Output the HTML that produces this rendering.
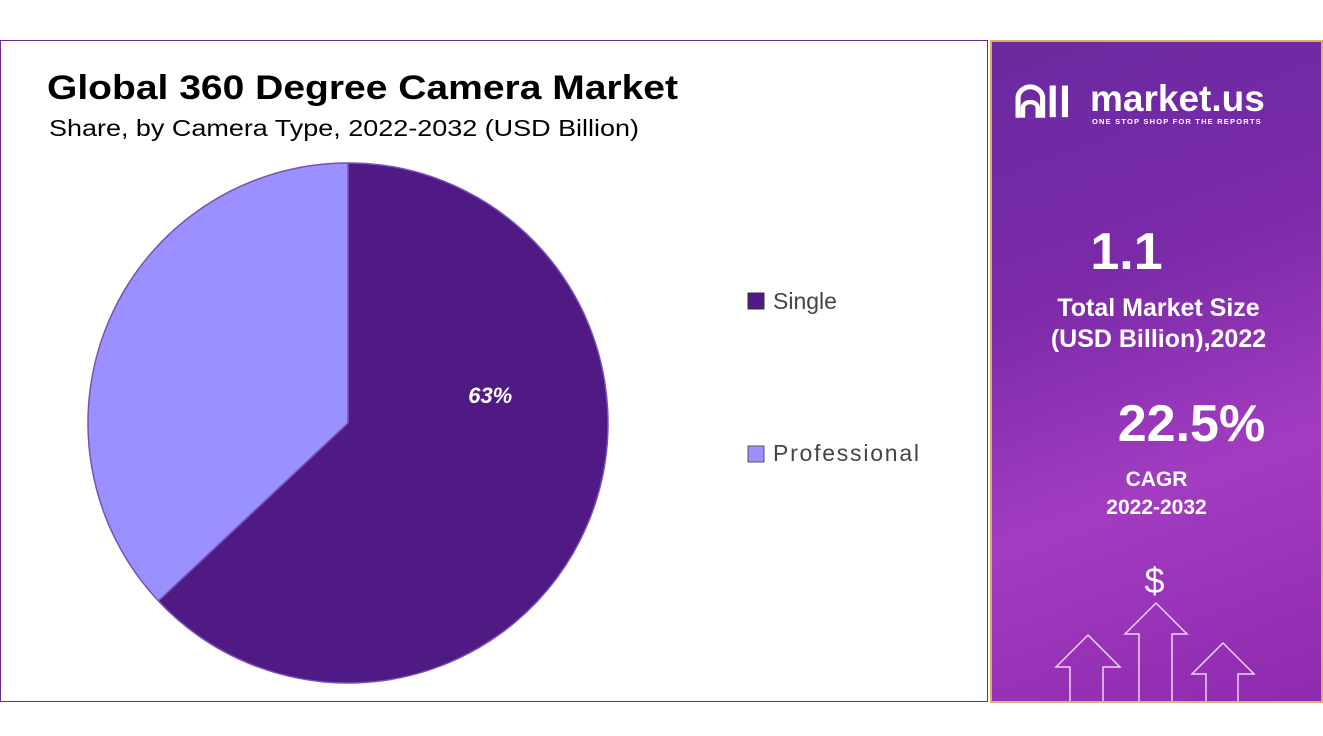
<!DOCTYPE html>
<html><head><meta charset="utf-8"><style>
body{margin:0;width:1323px;height:736px;background:#fff;position:relative;overflow:hidden;font-family:"Liberation Sans",sans-serif}
#left{position:absolute;left:0;top:40px;width:986px;height:660px;border:1px solid #6a2c8e}
#right{position:absolute;left:990px;top:40px;width:329px;height:659px;border:2px solid #d9b26a;background:linear-gradient(160deg,#6a2aa0 0%,#7b2aa8 35%,#a23cc0 65%,#8e2aae 100%);overflow:hidden}
.w{position:absolute;color:#fff;font-weight:bold;text-align:center;width:329px;left:0}
</style></head><body>
<div id="left">
<svg width="986" height="660">
<text x="46" y="58" font-size="34" font-weight="bold" fill="#000" textLength="631" lengthAdjust="spacingAndGlyphs">Global 360 Degree Camera Market</text>
<text x="48" y="95" font-size="23" fill="#000" textLength="590" lengthAdjust="spacingAndGlyphs">Share, by Camera Type, 2022-2032 (USD Billion)</text>
<g id="pie"></g>
<g>
<rect x="747" y="252" width="16" height="16" fill="#4f1a83" stroke="#333" stroke-width="1"/>
<text x="772" y="268" font-size="23" fill="#444">Single</text>
<rect x="747" y="405" width="16" height="16" fill="#9b90ff" stroke="#555" stroke-width="1"/>
<text x="772" y="420" font-size="23" fill="#444" textLength="146">Professional</text>
</g>
</svg>
</div>
<div id="right">
<div class="w" style="top:36px;left:22px;width:70px;font-size:44px;text-align:left">ᕱll</div>
<div class="w" style="top:36px;left:98px;width:200px;font-size:37px;text-align:left">market.us</div>
<div class="w" style="top:75px;left:100px;width:200px;font-size:7.5px;text-align:left;letter-spacing:1.2px">ONE STOP SHOP FOR THE REPORTS</div>
<div class="w" style="top:180px;left:-30px;font-size:52px">1.1</div>
<div class="w" style="top:251px;left:2px;font-size:25px;line-height:31px">Total Market Size<br>(USD Billion),2022</div>
<div class="w" style="top:352px;left:35px;font-size:52px">22.5%</div>
<div class="w" style="top:424px;left:0px;font-size:21px;line-height:28px">CAGR<br>2022-2032</div>
<div class="w" style="top:518px;left:-2px;font-size:36px;font-weight:normal">$</div>
<svg style="position:absolute;left:0;top:0" width="329" height="659"><g fill="none" stroke="#f0d0ff" stroke-width="1.5">
<polyline points="78,661 78,625 64,625 96,593 128,625 111,625 111,661"/>
<polyline points="147,661 147,592 133,592 164,561 195,592 180,592 180,661"/>
<polyline points="214,661 214,632 200,632 231,601 262,632 246,632 246,661"/></g></svg>
</div>
<script>
const categories=["Single","Professional"];
const shares=[63,37];
const colors=["#4f1a83","#9b90ff"];
const cx=347,cy=382,r=260;
const g=document.getElementById('pie');
let a=0;const tot=shares.reduce((s,v)=>s+v,0);
shares.forEach((v,i)=>{
 const a0=a,a1=a+v/tot*2*Math.PI;a=a1;
 const p=t=>[cx+r*Math.sin(t),cy-r*Math.cos(t)];
 const [x0,y0]=p(a0),[x1,y1]=p(a1);
 const path=document.createElementNS('http://www.w3.org/2000/svg','path');
 path.setAttribute('d',`M${cx},${cy}L${x0},${y0}A${r},${r} 0 ${a1-a0>Math.PI?1:0} 1 ${x1},${y1}Z`);
 path.setAttribute('fill',colors[i]);path.setAttribute('stroke','#7a4fb8');path.setAttribute('stroke-width','1.5');
 
 
 g.appendChild(path);
 if(i===0){
  const m=(a0+a1)/2;
  const t=document.createElementNS('http://www.w3.org/2000/svg','text');
  t.setAttribute('x',cx+0.55*r*Math.sin(m)+11);t.setAttribute('y',cy-20);
  t.setAttribute('text-anchor','middle');
  t.setAttribute('font-size','22');t.setAttribute('font-weight','bold');t.setAttribute('font-style','italic');t.setAttribute('fill','#fff');
  t.textContent=v+'%';
  
  
  g.appendChild(t);
 }
});
</script>
</body></html>
